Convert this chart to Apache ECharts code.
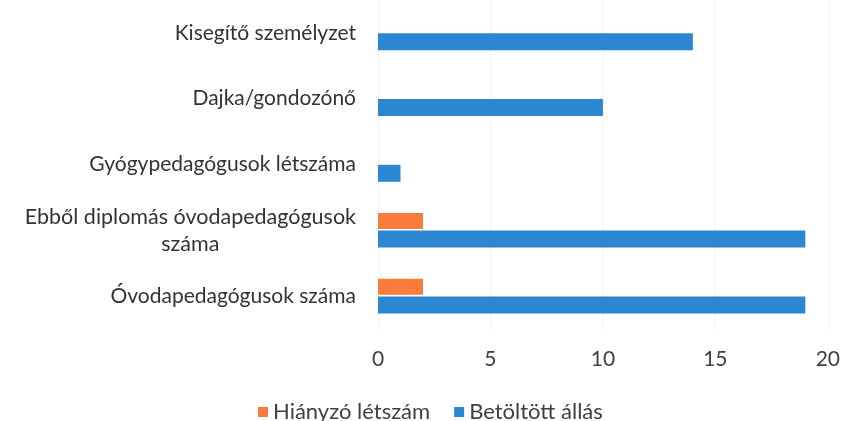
<!DOCTYPE html>
<html><head><meta charset="utf-8">
<script src="https://cdn.jsdelivr.net/npm/echarts@6/dist/echarts.min.js"></script>
<style>html,body{margin:0;padding:0;background:#fff}#c{width:843px;height:421px}</style>
</head><body><div id="c"></div>
<script>
const categories = ['Óvodapedagógusok száma', 'Ebből diplomás óvodapedagógusok\nszáma', 'Gyógypedagógusok létszáma', 'Dajka/gondozónő', 'Kisegítő személyzet'];
const hianyzo = [2, 2, 0, 0, 0];
const betoltott = [19, 19, 1, 10, 14];
const seriesNames = ['Hiányzó létszám', 'Betöltött állás'];
const xTicks = [0, 5, 10, 15, 20];

const chart = echarts.init(document.getElementById('c'));
const font = 'Lato, "Open Sans", sans-serif';
chart.setOption({
  animation: false,
  textStyle: {fontFamily: font},
  grid: {left: 378, right: 13, top: -2, height: 331},
  legend: {
    data: seriesNames, left: 253, top: 396, icon: 'rect', itemWidth: 10, itemHeight: 10, itemGap: 24,
    textStyle: {fontSize: 22, color: '#404040', fontFamily: font}
  },
  xAxis: {
    type: 'value', min: xTicks[0], max: xTicks[xTicks.length - 1], interval: 5,
    axisLine: {show: false}, axisTick: {show: false},
    splitLine: {lineStyle: {color: '#f2f2f2'}},
    axisLabel: {fontSize: 21, color: '#404040', margin: 20, fontFamily: font}
  },
  yAxis: {
    type: 'category', data: categories,
    axisLine: {show: false}, axisTick: {show: false},
    axisLabel: {
      fontSize: 21, color: '#333', margin: 22, fontFamily: font, lineHeight: 27,
      formatter: function (v) {
        if (v.indexOf('\n') >= 0) {
          return v.split('\n').map(s => '{c|' + s + '}').join('\n');
        }
        return v;
      },
      rich: {c: {align: 'center', fontSize: 21.5, color: '#333', lineHeight: 27, fontFamily: font}}
    }
  },
  series: [
    {name: seriesNames[0], type: 'bar', data: hianyzo, barWidth: 16, barGap: '10%', itemStyle: {color: '#fb7b3b'}},
    {name: seriesNames[1], type: 'bar', data: betoltott, barWidth: 17, itemStyle: {color: '#2b87d1'}}
  ]
});
</script></body></html>
